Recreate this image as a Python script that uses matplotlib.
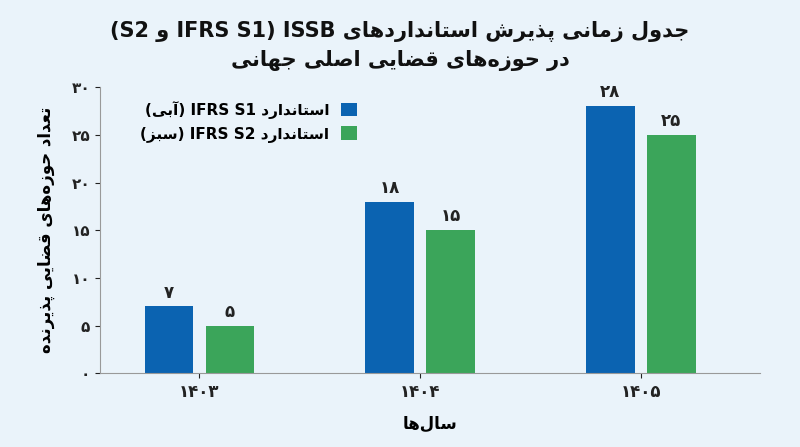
import matplotlib
matplotlib.use("Agg")
import matplotlib.pyplot as plt
import numpy as np

years = ["۱۴۰۳", "۱۴۰۴", "۱۴۰۵"]
s1 = [7, 18, 28]
s2 = [5, 15, 25]
yticks = [0, 5, 10, 15, 20, 25, 30]

FORMS = {
 'ا': (0xFE8D, 0xFE8E, None, None), 'آ': (0xFE81, 0xFE82, None, None),
 'د': (0xFEA9, 0xFEAA, None, None), 'ذ': (0xFEAB, 0xFEAC, None, None),
 'ر': (0xFEAD, 0xFEAE, None, None), 'ز': (0xFEAF, 0xFEB0, None, None),
 'و': (0xFEED, 0xFEEE, None, None),
}
def q(ch, base):
    FORMS[ch] = (base, base+1, base+2, base+3)
for ch, b in [('ب',0xFE8F),('ت',0xFE95),('ج',0xFE9D),('ح',0xFEA1),('س',0xFEB1),('ش',0xFEB5),
              ('ص',0xFEB9),('ض',0xFEBD),('ع',0xFEC9),('ق',0xFED5),('ل',0xFEDD),('م',0xFEE1),
              ('ن',0xFEE5),('ه',0xFEE9),('ی',0xFBFC),('پ',0xFB56),('ک',0xFB8E)]:
    q(ch, b)

def dual(c):
    return c in FORMS and FORMS[c][2] is not None

def shape(s):
    out = []
    for i, c in enumerate(s):
        if c not in FORMS:
            if c != '\u200c':
                out.append(c)
            continue
        prev = s[i-1] if i > 0 else ''
        nxt = s[i+1] if i+1 < len(s) else ''
        jp = dual(prev)
        jn = dual(c) and nxt in FORMS
        f = FORMS[c]
        if jp and jn: cp = f[3]
        elif jp: cp = f[1]
        elif jn: cp = f[2]
        else: cp = f[0]
        out.append(chr(cp))
    return ''.join(out)

MIR = {'(': ')', ')': '('}
def fa(s):
    return ''.join(MIR.get(c, c) for c in reversed(shape(s)))

plt.rcParams['font.family'] = ['DejaVu Sans']
fig = plt.figure(figsize=(8, 4.47), dpi=100)
fig.patch.set_facecolor('#eaf3fa')
ax = fig.add_axes([0.125, 0.165, 0.825, 0.64])
ax.set_facecolor('#eaf3fa')

x = np.arange(len(years))
w = 0.22
b1 = ax.bar(x - w/2 - 0.028, s1, w, color='#0b63b1', label=fa('(آبی)') + ' IFRS S1 ' + fa('استاندارد'))
b2 = ax.bar(x + w/2 + 0.028, s2, w, color='#3ba55a', label=fa('(سبز)') + ' IFRS S2 ' + fa('استاندارد'))
pd = str.maketrans('0123456789', '۰۱۲۳۴۵۶۷۸۹')
for bars, vals in [(b1, s1), (b2, s2)]:
    for b, v in zip(bars, vals):
        ax.text(b.get_x() + b.get_width()/2, v + 0.5, str(v).translate(pd), ha='center', va='bottom',
                fontsize=12, fontweight='bold', color='#222')

ax.set_xticks(x)
ax.set_xticklabels(years, fontsize=12, fontweight='bold')
ax.set_yticks(yticks)
ax.set_yticklabels([str(t).translate(pd) for t in yticks], fontsize=11, fontweight='bold')
ax.set_ylim(0, 30)
ax.set_xlim(-0.45, 2.54)
for sp in ['top', 'right']:
    ax.spines[sp].set_visible(False)
for sp in ['left', 'bottom']:
    ax.spines[sp].set_color('#999')
ax.tick_params(colors='#222')
ax.set_xlabel(fa('سال‌ها'), fontsize=12, fontweight='bold', labelpad=10)
ax.set_ylabel(fa('تعداد حوزه‌های قضایی پذیرنده'), fontsize=12, fontweight='bold', labelpad=12)

fig.text(0.5, 0.93, '(S2 ' + fa('و') + ' IFRS S1) ISSB ' + fa('جدول زمانی پذیرش استانداردهای'),
         ha='center', va='center', fontsize=15, fontweight='bold', color='#111')
fig.text(0.5, 0.865, fa('در حوزه‌های قضایی اصلی جهانی'), ha='center', va='center',
         fontsize=15, fontweight='bold', color='#111')

leg = ax.legend(loc='upper left', bbox_to_anchor=(0.04, 1.0), frameon=False, fontsize=11,
                markerfirst=False, handlelength=1.0, handleheight=1.0)
for t in leg.get_texts():
    t.set_fontweight('bold')
fig.savefig('out.png', dpi=100, facecolor=fig.get_facecolor())
